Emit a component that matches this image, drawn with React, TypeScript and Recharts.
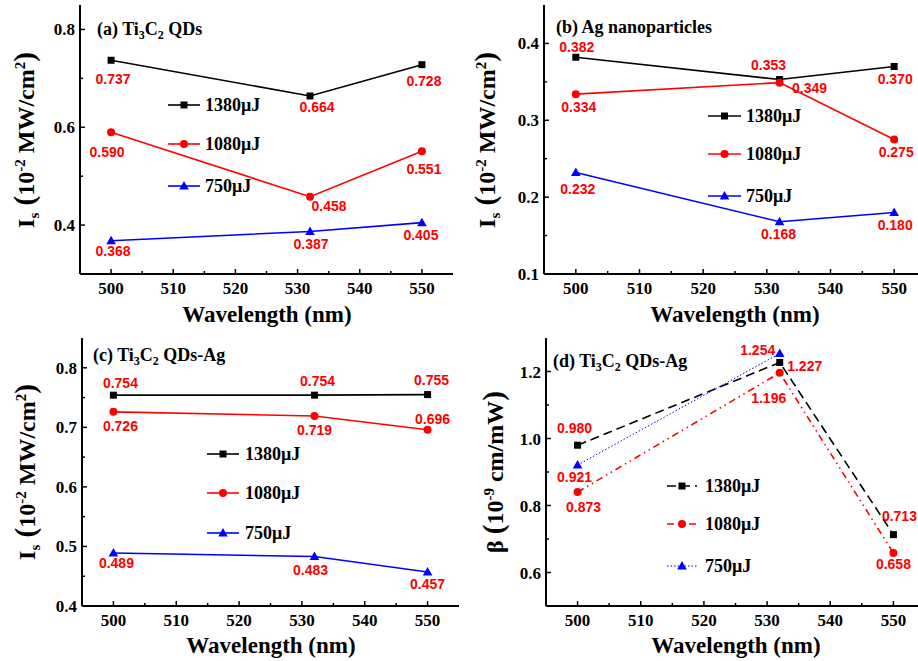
import React from "react";
import { LineChart, Line, XAxis, YAxis, LabelList } from "recharts";

const wavelengths = [500, 532, 550];

// (a) Ti3C2 QDs, Is
const a1380 = [0.737, 0.664, 0.728];
const a1080 = [0.59, 0.458, 0.551];
const a750 = [0.368, 0.387, 0.405];

// (b) Ag nanoparticles, Is
const b1380 = [0.382, 0.353, 0.37];
const b1080 = [0.334, 0.349, 0.275];
const b750 = [0.232, 0.168, 0.18];

// (c) Ti3C2 QDs-Ag, Is
const c1380 = [0.754, 0.754, 0.755];
const c1080 = [0.726, 0.719, 0.696];
const c750 = [0.489, 0.483, 0.457];

// (d) Ti3C2 QDs-Ag, beta (750 has no point at 550)
const d1380 = [0.98, 1.227, 0.713];
const d1080 = [0.84, 1.196, 0.658];
const d750 = [0.921, 1.254, null];
const d1080Text = ["0.873", "1.196", "0.658"];

const xTicks = [500, 505, 510, 515, 520, 525, 530, 535, 540, 545, 550];
const aYTicks = [0.4, 0.5, 0.6, 0.7, 0.8];
const aYMajor = [0.4, 0.6, 0.8];
const bYTicks = [0.1, 0.15, 0.2, 0.25, 0.3, 0.35, 0.4];
const bYMajor = [0.1, 0.2, 0.3, 0.4];
const cYTicks = [0.4, 0.45, 0.5, 0.55, 0.6, 0.65, 0.7, 0.75, 0.8];
const cYMajor = [0.4, 0.5, 0.6, 0.7, 0.8];
const dYTicks = [0.6, 0.7, 0.8, 0.9, 1.0, 1.1, 1.2];
const dYMajor = [0.6, 0.8, 1.0, 1.2];

// label offsets (dx, dy) from each point, in px
const aOff1380 = [[2, 19], [7, 11], [2, 16]];
const aOff1080 = [[-4, 20], [19, 9], [2, 18]];
const aOff750 = [[2, 10], [1, 13], [-1, 12]];
const bOff1380 = [[1, -10], [-11, -15], [1, 13]];
const bOff1080 = [[3, 13], [30, 5], [2, 12]];
const bOff750 = [[2, 16], [-1, 12], [1, 12]];
const cOff1380 = [[7, -12], [3, -14], [4, -15]];
const cOff1080 = [[7, 14], [0, 14], [5, -11]];
const cOff750 = [[3, 10], [-4, 13], [0, 12]];
const dOff1380 = [[-3, -17], [25, 4], [6, -19]];
const dOff1080 = [[6, 15], [-11, 25], [0, 11]];
const dOff750 = [[-3, 12], [-22, -3], [0, 0]];

const SERIF = "'Liberation Serif', 'Times New Roman', serif";
const SANS = "'Liberation Sans', Arial, sans-serif";
const RED = "#ff0000";
const BLUE = "#0000ff";

const serifStyle = (size: number): React.CSSProperties => ({ fontFamily: SERIF, fontWeight: "bold", fontSize: size });

type Shape = "square" | "circle" | "triangle";

interface SeriesDef {
  key: string;
  name: string;
  color: string;
  shape: Shape;
  dash?: string;
  width: number;
  values: (number | null)[];
  offsets: number[][];
  text?: string[];
}

function Marker({ cx, cy, shape, color }: { cx: number; cy: number; shape: Shape; color: string }) {
  if (shape === "square") return <rect x={cx - 3.5} y={cy - 3.5} width={7} height={7} fill={color} />;
  if (shape === "circle") return <circle cx={cx} cy={cy} r={4} fill={color} />;
  return <path d={`M${cx},${cy - 5} L${cx + 4.8},${cy + 3.5} L${cx - 4.8},${cy + 3.5} Z`} fill={color} />;
}

const isMajor = (v: number, majors: number[]) => majors.some((m) => Math.abs(m - v) < 1e-6);

const XTick = (props: any) => {
  const { x, y, payload } = props;
  const major = payload.value % 10 === 0;
  return (
    <g>
      <line x1={x} x2={x} y1={y} y2={y - (major ? 5 : 3)} stroke="#000" strokeWidth={1.5} />
      {major && (
        <text x={x} y={y + 20} textAnchor="middle" fill="#000" style={serifStyle(17)}>
          {payload.value}
        </text>
      )}
    </g>
  );
};

const makeYTick = (majors: number[]) => (props: any) => {
  const { x, y, payload } = props;
  const major = isMajor(payload.value, majors);
  return (
    <g>
      <line x1={x} x2={x + (major ? 5 : 3)} y1={y} y2={y} stroke="#000" strokeWidth={1.5} />
      {major && (
        <text x={x - 5} y={y + 6} textAnchor="end" fill="#000" style={serifStyle(17)}>
          {payload.value.toFixed(1)}
        </text>
      )}
    </g>
  );
};

const makeDot = (s: SeriesDef) => (p: any) => {
  const { cx, cy, index } = p;
  if (cx == null || cy == null || isNaN(cy) || s.values[index] == null) return <g key={index} />;
  return (
    <g key={index}>
      <Marker cx={cx} cy={cy} shape={s.shape} color={s.color} />
    </g>
  );
};

const makeLabel = (s: SeriesDef) => (p: any) => {
  const index = p.index;
  const x = p.x ?? p.viewBox?.x;
  const y = p.y ?? p.viewBox?.y;
  if (index == null || s.values[index] == null || x == null || y == null) return null;
  const [dx, dy] = s.offsets[index];
  const txt = s.text ? s.text[index] : (s.values[index] as number).toFixed(3);
  return (
    <text key={index} x={x + dx} y={y + dy + 5} textAnchor="middle" fill={RED} style={{ fontFamily: SANS, fontWeight: "bold", fontSize: 14 }}>
      {txt}
    </text>
  );
};

interface PanelProps {
  left: number;
  top: number;
  width: number;
  height: number;
  yWidth: number;
  mTop: number;
  xHeight: number;
  yDomain: [number, number];
  yTicks: number[];
  yMajor: number[];
  series: SeriesDef[];
}

function Panel({ left, top, width, height, yWidth, mTop, xHeight, yDomain, yTicks, yMajor, series }: PanelProps) {
  const data = wavelengths.map((w, i) => {
    const row: Record<string, number | null> = { w };
    series.forEach((s) => (row[s.key] = s.values[i]));
    return row;
  });
  const axisLine = { stroke: "#000", strokeWidth: 2 };
  return (
    <div style={{ position: "absolute", left, top }}>
      <LineChart width={width} height={height} data={data} margin={{ top: mTop, right: 6, bottom: 0, left: 0 }}>
        <XAxis
          dataKey="w"
          type="number"
          domain={[495, 555]}
          ticks={xTicks}
          interval={0}
          height={xHeight}
          tickSize={0}
          tickMargin={0}
          tickLine={false}
          axisLine={axisLine}
          tick={XTick}
        />
        <XAxis xAxisId="top" orientation="top" type="number" domain={[495, 555]} height={0} tick={false} tickLine={false} axisLine={axisLine} />
        <YAxis
          type="number"
          domain={yDomain}
          ticks={yTicks}
          interval={0}
          width={yWidth}
          tickSize={0}
          tickMargin={0}
          tickLine={false}
          axisLine={axisLine}
          tick={makeYTick(yMajor)}
        />
        <YAxis yAxisId="right" orientation="right" type="number" domain={yDomain} width={0} tick={false} tickLine={false} axisLine={axisLine} />
        {series.map((s) => (
          <Line
            key={s.key}
            type="linear"
            dataKey={s.key}
            stroke={s.color}
            strokeWidth={s.width}
            strokeDasharray={s.dash}
            dot={makeDot(s)}
            activeDot={false}
            connectNulls={false}
            isAnimationActive={false}
          >
            <LabelList content={makeLabel(s)} />
          </Line>
        ))}
      </LineChart>
    </div>
  );
}

const solid = (key: string, name: string, color: string, shape: Shape, values: (number | null)[], offsets: number[][]): SeriesDef => ({
  key, name, color, shape, values, offsets, width: 1.6,
});

const seriesA = [
  solid("s1380", "1380μJ", "#000", "square", a1380, aOff1380),
  solid("s1080", "1080μJ", RED, "circle", a1080, aOff1080),
  solid("s750", "750μJ", BLUE, "triangle", a750, aOff750),
];
const seriesB = [
  solid("s1380", "1380μJ", "#000", "square", b1380, bOff1380),
  solid("s1080", "1080μJ", RED, "circle", b1080, bOff1080),
  solid("s750", "750μJ", BLUE, "triangle", b750, bOff750),
];
const seriesC = [
  solid("s1380", "1380μJ", "#000", "square", c1380, cOff1380),
  solid("s1080", "1080μJ", RED, "circle", c1080, cOff1080),
  solid("s750", "750μJ", BLUE, "triangle", c750, cOff750),
];
const seriesD: SeriesDef[] = [
  { key: "s1380", name: "1380μJ", color: "#000", shape: "square", values: d1380, offsets: dOff1380, width: 1.6, dash: "9 5" },
  { key: "s1080", name: "1080μJ", color: RED, shape: "circle", values: d1080, offsets: dOff1080, width: 1.6, dash: "7 4 1.5 4 1.5 4", text: d1080Text },
  { key: "s750", name: "750μJ", color: BLUE, shape: "triangle", values: d750, offsets: dOff750, width: 1, dash: "1.5 2" },
];

function LegendBox({ x1, x2, tx, ys, series }: { x1: number; x2: number; tx: number; ys: number[]; series: SeriesDef[] }) {
  return (
    <g>
      {series.map((s, i) => (
        <g key={s.key}>
          <line x1={x1} x2={x2} y1={ys[i]} y2={ys[i]} stroke={s.color} strokeWidth={s.width} strokeDasharray={s.dash} />
          <Marker cx={(x1 + x2) / 2} cy={ys[i]} shape={s.shape} color={s.color} />
          <text x={tx} y={ys[i] + 6} fill="#000" style={serifStyle(18)}>
            {s.name}
          </text>
        </g>
      ))}
    </g>
  );
}

function Title({ x, y, parts }: { x: number; y: number; parts: [string, boolean][] }) {
  return (
    <text x={x} y={y} fill="#000" style={serifStyle(18)}>
      {parts.map(([t, sub], i) => {
        const prevSub = i > 0 && parts[i - 1][1];
        const dy = sub ? 4 : prevSub ? -4 : 0;
        return (
          <tspan key={i} dy={dy} fontSize={sub ? 12 : 18}>
            {t}
          </tspan>
        );
      })}
    </text>
  );
}

function XLabel({ x, y }: { x: number; y: number }) {
  return (
    <text x={x} y={y} textAnchor="middle" fill="#000" style={serifStyle(23)}>
      Wavelength (nm)
    </text>
  );
}

function IsLabel({ x, y }: { x: number; y: number }) {
  return (
    <text transform={`translate(${x},${y}) rotate(-90)`} textAnchor="middle" fill="#000" style={serifStyle(24)}>
      <tspan>I</tspan>
      <tspan dy={5} fontSize={15}>s</tspan>
      <tspan dy={-5} fontSize={29}> (</tspan>
      <tspan>10</tspan>
      <tspan dy={-9} fontSize={15}>-2</tspan>
      <tspan dy={9}> MW/cm</tspan>
      <tspan dy={-9} fontSize={15}>2</tspan>
      <tspan dy={9} fontSize={29}>)</tspan>
    </text>
  );
}

function BetaLabel({ x, y }: { x: number; y: number }) {
  return (
    <text transform={`translate(${x},${y}) rotate(-90)`} textAnchor="middle" fill="#000" style={serifStyle(24)}>
      <tspan>β </tspan>
      <tspan fontSize={29}>(</tspan>
      <tspan>10</tspan>
      <tspan dy={-9} fontSize={15}>-9</tspan>
      <tspan dy={9}> cm/mW</tspan>
      <tspan fontSize={29}>)</tspan>
    </text>
  );
}

export default function App() {
  return (
    <div style={{ position: "absolute", left: 0, top: 0, width: 918, height: 661, overflow: "hidden", background: "#fff" }}>
      <Panel left={0} top={0} width={459} height={330} yWidth={80} mTop={5} xHeight={56} yDomain={[0.3, 0.85]} yTicks={aYTicks} yMajor={aYMajor} series={seriesA} />
      <Panel left={459} top={0} width={473} height={330} yWidth={85} mTop={5} xHeight={56} yDomain={[0.1, 0.45]} yTicks={bYTicks} yMajor={bYMajor} series={seriesB} />
      <Panel left={0} top={330} width={465} height={331} yWidth={82} mTop={8} xHeight={55} yDomain={[0.4, 0.85]} yTicks={cYTicks} yMajor={cYMajor} series={seriesC} />
      <Panel left={459} top={330} width={472} height={331} yWidth={87} mTop={8} xHeight={55} yDomain={[0.5, 1.3]} yTicks={dYTicks} yMajor={dYMajor} series={seriesD} />
      <svg width={918} height={661} style={{ position: "absolute", left: 0, top: 0, pointerEvents: "none" }}>
        <Title x={97} y={35} parts={[["(a) Ti", false], ["3", true], ["C", false], ["2", true], [" QDs", false]]} />
        <Title x={556} y={33} parts={[["(b) Ag nanoparticles", false]]} />
        <Title x={93} y={361} parts={[["(c) Ti", false], ["3", true], ["C", false], ["2", true], [" QDs-Ag", false]]} />
        <Title x={553} y={367} parts={[["(d) Ti", false], ["3", true], ["C", false], ["2", true], [" QDs-Ag", false]]} />
        <LegendBox x1={168} x2={200} tx={205} ys={[105, 144, 186]} series={seriesA} />
        <LegendBox x1={708} x2={741} tx={746} ys={[116, 154, 196]} series={seriesB} />
        <LegendBox x1={207} x2={239} tx={245} ys={[454, 493, 533]} series={seriesC} />
        <LegendBox x1={667} x2={697} tx={705} ys={[486, 524, 566]} series={seriesD} />
        <IsLabel x={34} y={140} />
        <IsLabel x={495} y={140} />
        <IsLabel x={35} y={472} />
        <BetaLabel x={503} y={472} />
        <XLabel x={267} y={322} />
        <XLabel x={735} y={322} />
        <XLabel x={271} y={653} />
        <XLabel x={736} y={653} />
      </svg>
    </div>
  );
}
